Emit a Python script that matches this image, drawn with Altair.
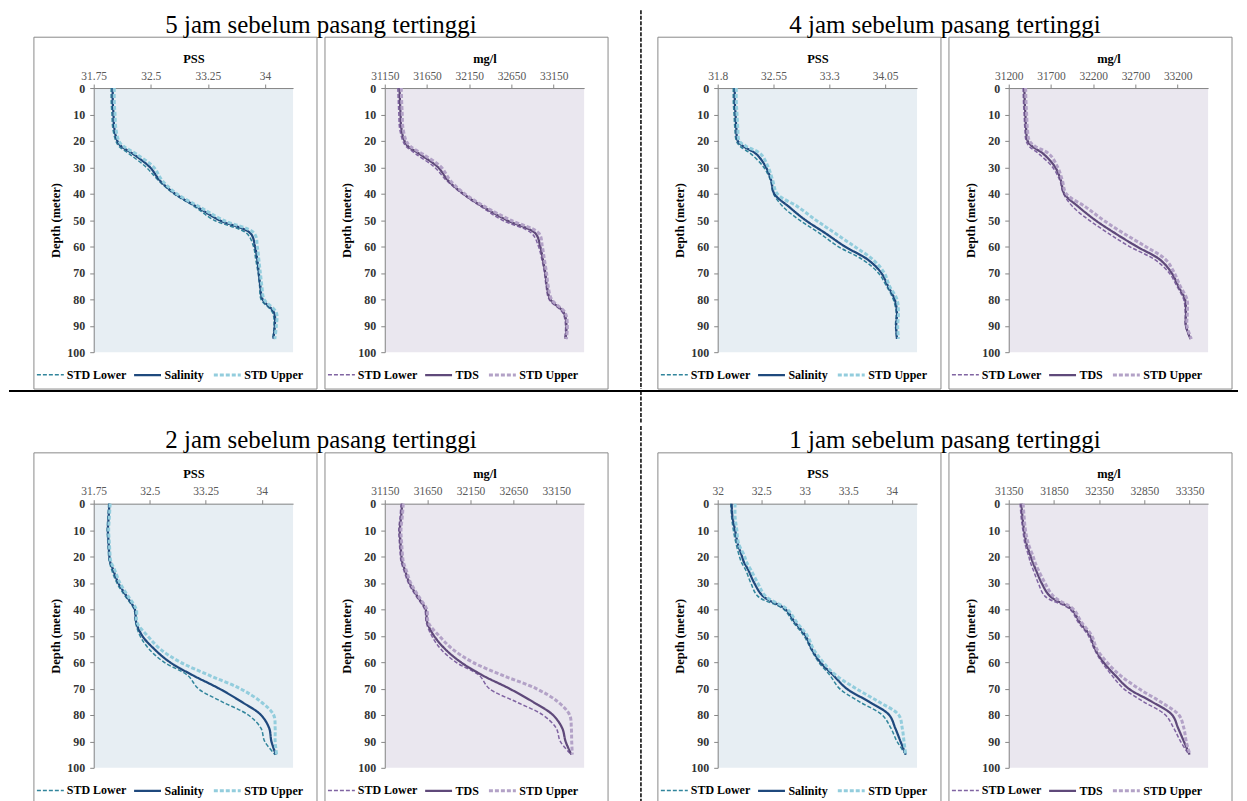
import altair as alt
import pandas as pd

# ---------------- data ----------------
DEPTH = [0, 5, 10, 15, 20, 22, 25, 30, 35, 40, 45, 50, 55, 60, 65, 70, 75, 80, 85, 90, 95]

# 5 jam sebelum pasang tertinggi
S5_LO = [31.98, 31.98, 31.99, 32.00, 32.04, 32.08, 32.22, 32.44, 32.60, 32.80, 33.08, 33.33, 33.76, 33.85, 33.88, 33.91, 33.93, 33.95, 34.10, 34.12, 34.10]
S5 = [32.00, 32.00, 32.01, 32.02, 32.06, 32.11, 32.27, 32.49, 32.62, 32.82, 33.11, 33.40, 33.81, 33.87, 33.90, 33.92, 33.94, 33.97, 34.12, 34.13, 34.11]
S5_UP = [32.02, 32.02, 32.03, 32.04, 32.08, 32.14, 32.31, 32.54, 32.65, 32.84, 33.14, 33.45, 33.86, 33.90, 33.92, 33.94, 33.96, 33.99, 34.15, 34.15, 34.13]
T5_LO = [31305, 31310, 31317, 31325, 31364, 31400, 31520, 31740, 31880, 32065, 32295, 32540, 32890, 32970, 33010, 33040, 33060, 33095, 33255, 33290, 33280]
T5 = [31325, 31330, 31337, 31345, 31384, 31424, 31563, 31781, 31900, 32079, 32317, 32594, 32932, 32991, 33023, 33051, 33070, 33110, 33269, 33301, 33289]
T5_UP = [31345, 31350, 31357, 31365, 31404, 31450, 31600, 31820, 31925, 32095, 32340, 32640, 32975, 33015, 33040, 33065, 33085, 33125, 33285, 33312, 33300]

# 4 jam sebelum pasang tertinggi
S4_LO = [32.01, 32.01, 32.02, 32.03, 32.05, 32.10, 32.25, 32.42, 32.51, 32.55, 32.68, 32.90, 33.17, 33.42, 33.75, 33.96, 34.07, 34.16, 34.20, 34.19, 34.21]
S4 = [32.03, 32.03, 32.04, 32.05, 32.07, 32.14, 32.32, 32.45, 32.52, 32.56, 32.76, 32.98, 33.25, 33.51, 33.82, 34.00, 34.09, 34.18, 34.21, 34.20, 34.21]
S4_UP = [32.05, 32.05, 32.06, 32.07, 32.09, 32.18, 32.38, 32.48, 32.54, 32.60, 32.88, 33.12, 33.38, 33.64, 33.89, 34.04, 34.11, 34.21, 34.23, 34.22, 34.23]
T4_LO = [31370, 31374, 31382, 31390, 31405, 31440, 31560, 31720, 31805, 31848, 31960, 32150, 32380, 32630, 32930, 33100, 33190, 33270, 33290, 33292, 33350]
T4 = [31385, 31389, 31397, 31405, 31424, 31476, 31613, 31751, 31818, 31857, 32027, 32224, 32460, 32716, 32991, 33129, 33208, 33287, 33298, 33298, 33353]
T4_UP = [31400, 31404, 31412, 31420, 31445, 31510, 31680, 31780, 31835, 31880, 32110, 32320, 32560, 32820, 33060, 33160, 33230, 33310, 33315, 33310, 33362]

# 2 jam sebelum pasang tertinggi
S2_LO = [31.95, 31.94, 31.93, 31.94, 31.95, 31.96, 31.99, 32.06, 32.17, 32.29, 32.31, 32.37, 32.49, 32.69, 33.01, 33.15, 33.47, 33.82, 33.99, 34.04, 34.18]
S2 = [31.96, 31.95, 31.94, 31.95, 31.96, 31.97, 32.01, 32.08, 32.19, 32.30, 32.32, 32.40, 32.56, 32.77, 33.08, 33.43, 33.73, 33.99, 34.10, 34.13, 34.19]
S2_UP = [31.97, 31.96, 31.95, 31.96, 31.97, 31.98, 32.03, 32.10, 32.21, 32.32, 32.33, 32.47, 32.64, 32.91, 33.30, 33.71, 33.99, 34.16, 34.18, 34.18, 34.20]
T2_LO = [31340, 31328, 31313, 31321, 31332, 31340, 31370, 31425, 31515, 31615, 31634, 31697, 31802, 31978, 32251, 32369, 32681, 32994, 33150, 33197, 33326]
T2 = [31353, 31341, 31326, 31334, 31345, 31353, 31384, 31439, 31529, 31627, 31646, 31724, 31853, 32037, 32291, 32603, 32877, 33111, 33220, 33259, 33326]
T2_UP = [31366, 31354, 31339, 31347, 31358, 31366, 31398, 31453, 31543, 31640, 31658, 31783, 31939, 32173, 32525, 32916, 33169, 33306, 33326, 33330, 33337]

# 1 jam sebelum pasang tertinggi
S1_LO = [32.15, 32.16, 32.18, 32.21, 32.25, 32.27, 32.32, 32.38, 32.46, 32.76, 32.87, 32.99, 33.07, 33.16, 33.29, 33.40, 33.63, 33.89, 33.99, 34.06, 34.16]
S1 = [32.16, 32.17, 32.20, 32.23, 32.28, 32.30, 32.35, 32.42, 32.52, 32.78, 32.89, 33.01, 33.08, 33.18, 33.33, 33.48, 33.74, 33.97, 34.04, 34.10, 34.16]
S1_UP = [32.20, 32.20, 32.22, 32.24, 32.31, 32.33, 32.38, 32.46, 32.55, 32.80, 32.91, 33.03, 33.10, 33.21, 33.36, 33.59, 33.85, 34.08, 34.12, 34.14, 34.16]
T1_LO = [31476, 31487, 31506, 31528, 31572, 31587, 31620, 31676, 31750, 32028, 32120, 32231, 32295, 32380, 32491, 32620, 32843, 33083, 33176, 33250, 33343]
T1 = [31491, 31502, 31520, 31546, 31594, 31613, 31650, 31713, 31806, 32046, 32139, 32250, 32306, 32398, 32528, 32676, 32935, 33158, 33224, 33287, 33350]
T1_UP = [31509, 31520, 31535, 31565, 31620, 31639, 31676, 31750, 31843, 32065, 32157, 32269, 32324, 32435, 32583, 32787, 33028, 33232, 33287, 33313, 33354]

# axis domains and tick labels
S5_DOMAIN, S5_TICKS = [31.75, 34.37], [31.75, 32.5, 33.25, 34]
T5_DOMAIN, T5_TICKS = [31150, 33510], [31150, 31650, 32150, 32650, 33150]
S4_DOMAIN, S4_TICKS = [31.8, 34.48], [31.8, 32.55, 33.3, 34.05]
T4_DOMAIN, T4_TICKS = [31200, 33560], [31200, 31700, 32200, 32700, 33200]
S2_DOMAIN, S2_TICKS = [31.75, 34.42], [31.75, 32.5, 33.25, 34]
T2_DOMAIN, T2_TICKS = [31150, 33475], [31150, 31650, 32150, 32650, 33150]
S1_DOMAIN, S1_TICKS = [32, 34.29], [32, 32.5, 33, 33.5, 34]
T1_DOMAIN, T1_TICKS = [31350, 33555], [31350, 31850, 32350, 32850, 33350]

DEPTH_TICKS = [0, 10, 20, 30, 40, 50, 60, 70, 80, 90, 100]
TITLES = ["5 jam sebelum pasang tertinggi", "4 jam sebelum pasang tertinggi",
          "2 jam sebelum pasang tertinggi", "1 jam sebelum pasang tertinggi"]

# ---------------- styles ----------------
FONT = "Liberation Serif"
SAL_COLORS = ["#31859C", "#1F497D", "#93CDDD"]
TDS_COLORS = ["#8064A2", "#5F497A", "#B3A2C7"]
SAL_BG = "#E7EEF3"
TDS_BG = "#EAE7EF"
AXIS_GRAY = "#868686"
PW, PH = 200, 265


def panel(lo, main, up, main_name, colors, bg, domain, ticks, unit):
    names = ["STD Lower", main_name, "STD Upper"]
    rows = []
    for name, vals in zip(names, [lo, main, up]):
        for d, v in zip(DEPTH, vals):
            rows.append({"depth": d, "value": v, "series": name})
    df = pd.DataFrame(rows)
    leg = alt.Legend(title=None, orient="none", legendX=-58, legendY=273,
                     direction="horizontal", symbolType="stroke", symbolSize=729,
                     labelFont=FONT, labelFontSize=12, labelFontWeight="bold",
                     labelColor="#000000", labelOffset=2, columnPadding=3)
    lines = alt.Chart(df).mark_line(interpolate="catmull-rom", strokeCap="butt").encode(
        x=alt.X("value:Q",
                scale=alt.Scale(domain=domain, nice=False, zero=False),
                axis=alt.Axis(orient="top", values=ticks, title=unit,
                              labelExpr="'' + datum.value", grid=False,
                              labelFlush=False, labelOverlap=False,
                              labelFont=FONT, titleFont=FONT,
                              labelFontSize=11.5, labelColor="#595959",
                              titleFontSize=12.5, titleFontWeight="bold", titleColor="#000000",
                              domainColor=AXIS_GRAY, tickColor=AXIS_GRAY,
                              tickSize=4, labelPadding=3, titlePadding=5)),
        y=alt.Y("depth:Q",
                scale=alt.Scale(domain=[0, 100], reverse=True, nice=False),
                axis=alt.Axis(values=DEPTH_TICKS, title="Depth (meter)", grid=False,
                              labelFlush=False, labelOverlap=False,
                              labelFont=FONT, titleFont=FONT,
                              labelFontSize=12, labelFontWeight="bold", labelColor="#333333",
                              titleFontSize=12.5, titleFontWeight="bold", titleColor="#000000",
                              domainColor=AXIS_GRAY, tickColor=AXIS_GRAY,
                              tickSize=4, labelPadding=5, titlePadding=4)),
        color=alt.Color("series:N", scale=alt.Scale(domain=names, range=colors), legend=leg),
        strokeDash=alt.StrokeDash("series:N",
                                  scale=alt.Scale(domain=names, range=[[4, 2], [1, 0], [4, 2]]),
                                  legend=leg),
        strokeWidth=alt.StrokeWidth("series:N",
                                    scale=alt.Scale(domain=names, range=[1.5, 3, 1.5]),
                                    legend=leg),
        order=alt.Order("depth:Q"),
    )
    frame = alt.Chart(pd.DataFrame({"k": [0]})).mark_rect(
        fillOpacity=0, stroke="#8A8A8A", strokeWidth=1
    ).encode(x=alt.value(-60), x2=alt.value(PW + 24), y=alt.value(-51), y2=alt.value(PH + 37))
    return alt.layer(frame, lines).properties(
        width=PW, height=PH, view=alt.ViewBackground(fill=bg, strokeWidth=0)
    )


IND = dict(x="independent", y="independent", color="independent",
           strokeDash="independent", strokeWidth="independent")
IND_LEG = dict(color="independent", strokeDash="independent", strokeWidth="independent")


def group(title, sal, tds):
    return alt.hconcat(
        sal, tds, spacing=6,
        title=alt.TitleParams(title, font=FONT, fontSize=25, fontWeight="normal",
                              color="#000000", anchor="middle", offset=-1),
    ).resolve_scale(**IND).resolve_legend(**IND_LEG)


g5 = group(TITLES[0],
           panel(S5_LO, S5, S5_UP, "Salinity", SAL_COLORS, SAL_BG, S5_DOMAIN, S5_TICKS, "PSS"),
           panel(T5_LO, T5, T5_UP, "TDS", TDS_COLORS, TDS_BG, T5_DOMAIN, T5_TICKS, "mg/l"))
g4 = group(TITLES[1],
           panel(S4_LO, S4, S4_UP, "Salinity", SAL_COLORS, SAL_BG, S4_DOMAIN, S4_TICKS, "PSS"),
           panel(T4_LO, T4, T4_UP, "TDS", TDS_COLORS, TDS_BG, T4_DOMAIN, T4_TICKS, "mg/l"))
g2 = group(TITLES[2],
           panel(S2_LO, S2, S2_UP, "Salinity", SAL_COLORS, SAL_BG, S2_DOMAIN, S2_TICKS, "PSS"),
           panel(T2_LO, T2, T2_UP, "TDS", TDS_COLORS, TDS_BG, T2_DOMAIN, T2_TICKS, "mg/l"))
g1 = group(TITLES[3],
           panel(S1_LO, S1, S1_UP, "Salinity", SAL_COLORS, SAL_BG, S1_DOMAIN, S1_TICKS, "PSS"),
           panel(T1_LO, T1, T1_UP, "TDS", TDS_COLORS, TDS_BG, T1_DOMAIN, T1_TICKS, "mg/l"))

ONE = pd.DataFrame({"k": [0]})
TOP_EXT = 78          # from row top (title) down to the plot origin
SPACER_W = 24
VSEP_W, VSEP_X = 48, 32
SEP_DASH = [4, 1.5]


def spacer():
    return alt.Chart(ONE).mark_rule(strokeOpacity=0).encode(
        x=alt.value(0), y=alt.value(0)).properties(width=SPACER_W, height=10)


def vsep():
    return alt.Chart(ONE).mark_rule(stroke="#000000", strokeWidth=1.5, strokeDash=SEP_DASH).encode(
        x=alt.value(VSEP_X), y=alt.value(-TOP_EXT), y2=alt.value(PH + 37)
    ).properties(width=VSEP_W, height=PH)


HSEP_H = 33
hline = alt.Chart(ONE).mark_rule(stroke="#000000", strokeWidth=2).encode(
    x=alt.value(0), x2=alt.value(1233), y=alt.value(0))
vpiece = alt.Chart(ONE).mark_rule(stroke="#000000", strokeWidth=1.5, strokeDash=SEP_DASH).encode(
    x=alt.value(SPACER_W + 285 + 6 + 285 + VSEP_X + 2), y=alt.value(0), y2=alt.value(HSEP_H))
hsep = alt.layer(hline, vpiece).properties(width=1233, height=HSEP_H)

row1 = alt.hconcat(spacer(), g5, vsep(), g4, spacing=0).resolve_scale(**IND).resolve_legend(**IND_LEG)
row2 = alt.hconcat(spacer(), g2, vsep(), g1, spacing=0).resolve_scale(**IND).resolve_legend(**IND_LEG)

chart = alt.vconcat(row1, hsep, row2, spacing=0).resolve_scale(**IND).resolve_legend(**IND_LEG).properties(
    padding=0, background="#FFFFFF"
).configure_view(strokeWidth=0).configure_axis(
    labelFont=FONT, titleFont=FONT, grid=False
)

chart.save("out.html", embed_options={"renderer": "svg", "actions": False})
